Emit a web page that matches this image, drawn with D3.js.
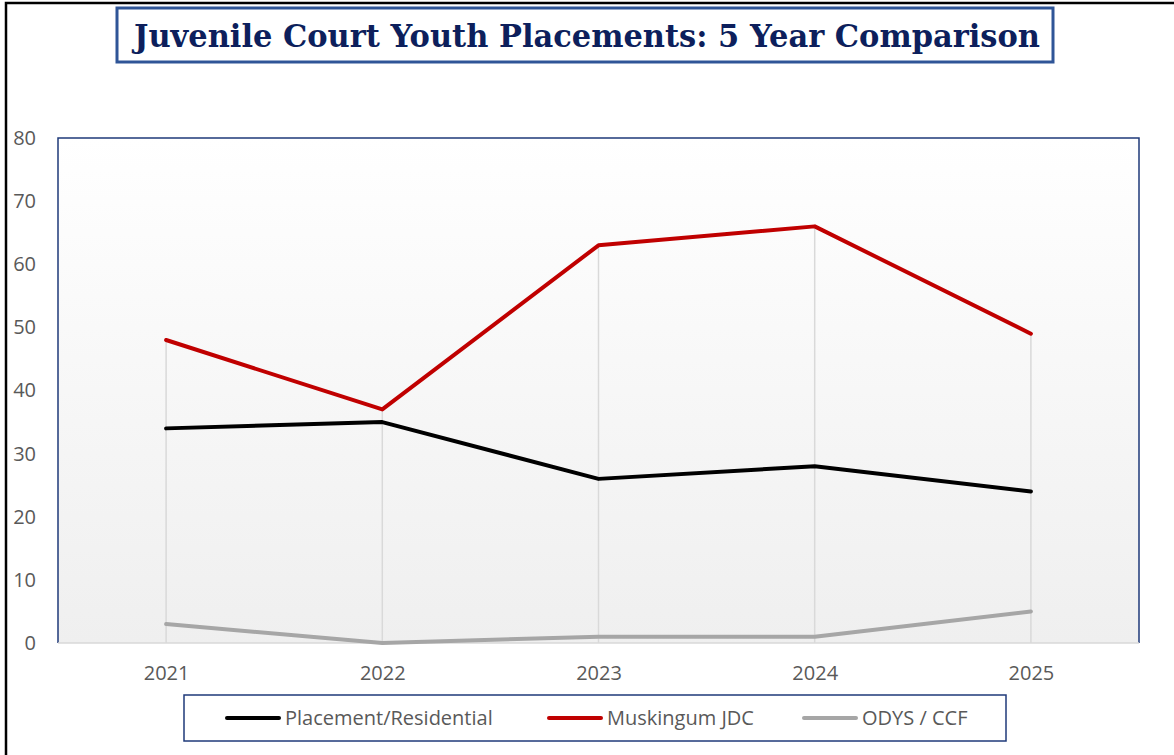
<!DOCTYPE html>
<html>
<head>
<meta charset="utf-8">
<script src="https://cdn.jsdelivr.net/npm/d3@7"></script>
<style>
html,body{margin:0;padding:0;background:#fff;}
svg{display:block;}
</style>
</head>
<body>
<svg id="chart" width="1174" height="755"></svg>
<script>
const titleText = "Juvenile Court Youth Placements: 5 Year Comparison";
const years = ["2021","2022","2023","2024","2025"];
const placement = [34,35,26,28,24];
const muskingum = [48,37,63,66,49];
const odys = [3,0,1,1,5];
const seriesNames = ["Placement/Residential","Muskingum JDC","ODYS / CCF"];
const yTicks = [0,10,20,30,40,50,60,70,80];

const series = [
  {name: seriesNames[0], values: placement, color: "#000000"},
  {name: seriesNames[1], values: muskingum, color: "#c00000"},
  {name: seriesNames[2], values: odys, color: "#a6a6a6"}
];

const svg = d3.select("#chart");
const W = 1174, H = 755;
const plot = {left: 58, right: 1139, top: 138, bottom: 643};
const FONT = "'Open Sans', 'Noto Sans', sans-serif";

// outer frame
svg.append("path")
  .attr("d", `M6,${H+5} L6,3 L${W+5},3`)
  .attr("fill","none").attr("stroke","#000").attr("stroke-width",2.5);

// title box
svg.append("rect").attr("x",117).attr("y",8).attr("width",936).attr("height",54)
  .attr("fill","#fff").attr("stroke","#2f5597").attr("stroke-width",3);
svg.append("text").attr("x",587).attr("y",47).attr("text-anchor","middle")
  .attr("font-family","'DejaVu Serif', 'Liberation Serif', serif")
  .attr("font-weight","bold").attr("font-size",31).attr("fill","#0d1f5c")
  .attr("textLength",906).attr("lengthAdjust","spacingAndGlyphs")
  .text(titleText);

// gradient
const defs = svg.append("defs");
const grad = defs.append("linearGradient").attr("id","bg").attr("x1",0).attr("y1",0).attr("x2",0).attr("y2",1);
grad.append("stop").attr("offset","0%").attr("stop-color","#ffffff");
grad.append("stop").attr("offset","100%").attr("stop-color","#efefef");

const x = d3.scalePoint().domain(years).range([plot.left, plot.right]).padding(0.5);
const y = d3.scaleLinear().domain([0,80]).range([plot.bottom, plot.top]);

svg.append("rect").attr("x",plot.left).attr("y",plot.top)
  .attr("width",plot.right-plot.left).attr("height",plot.bottom-plot.top)
  .attr("fill","url(#bg)");

// plot border (left, top, right)
svg.append("path")
  .attr("d",`M${plot.left},${plot.bottom} L${plot.left},${plot.top} L${plot.right},${plot.top} L${plot.right},${plot.bottom}`)
  .attr("fill","none").attr("stroke","#1f3a7a").attr("stroke-width",1.5);

// drop lines from max value to axis
svg.append("g").selectAll("line").data(years).join("line")
  .attr("x1",d=>x(d)).attr("x2",d=>x(d))
  .attr("y1",(d,i)=>y(d3.max(series,s=>s.values[i])))
  .attr("y2",plot.bottom)
  .attr("stroke","#d9d9d9").attr("stroke-width",1.5);

// x axis line
svg.append("line").attr("x1",plot.left).attr("x2",plot.right)
  .attr("y1",plot.bottom).attr("y2",plot.bottom)
  .attr("stroke","#d9d9d9").attr("stroke-width",1.5);

// y axis
const yAxis = svg.append("g").attr("transform","translate(36,0)")
  .call(d3.axisLeft(y).tickValues(yTicks).tickSize(0).tickPadding(0));
yAxis.select(".domain").remove();
yAxis.selectAll("text").attr("font-family",FONT)
  .attr("font-size",20).attr("fill","#595959");

// x axis
const xAxis = svg.append("g").attr("transform",`translate(0,${plot.bottom})`)
  .call(d3.axisBottom(x).tickSize(0).tickPadding(23));
xAxis.select(".domain").remove();
xAxis.selectAll("text").attr("font-family",FONT)
  .attr("font-size",20).attr("fill","#595959");

// lines
const line = d3.line().x((d,i)=>x(years[i])).y(d=>y(d));
svg.append("g").selectAll("path").data(series).join("path")
  .attr("d",d=>line(d.values))
  .attr("fill","none").attr("stroke",d=>d.color).attr("stroke-width",4)
  .attr("stroke-linejoin","round").attr("stroke-linecap","round");

// legend
svg.append("rect").attr("x",184).attr("y",695).attr("width",822).attr("height",46)
  .attr("fill","#fff").attr("stroke","#1f3a7a").attr("stroke-width",1.5);
const legX = [227, 549, 804];
const lg = svg.append("g").selectAll("g").data(series).join("g")
  .attr("transform",(d,i)=>`translate(${legX[i]},718)`);
lg.append("line").attr("x1",0).attr("x2",52).attr("y1",0).attr("y2",0)
  .attr("stroke",d=>d.color).attr("stroke-width",4).attr("stroke-linecap","round");
lg.append("text").attr("x",58).attr("y",7)
  .attr("font-family",FONT)
  .attr("font-size",20).attr("fill","#595959")
  .text(d=>d.name);
</script>
</body>
</html>
